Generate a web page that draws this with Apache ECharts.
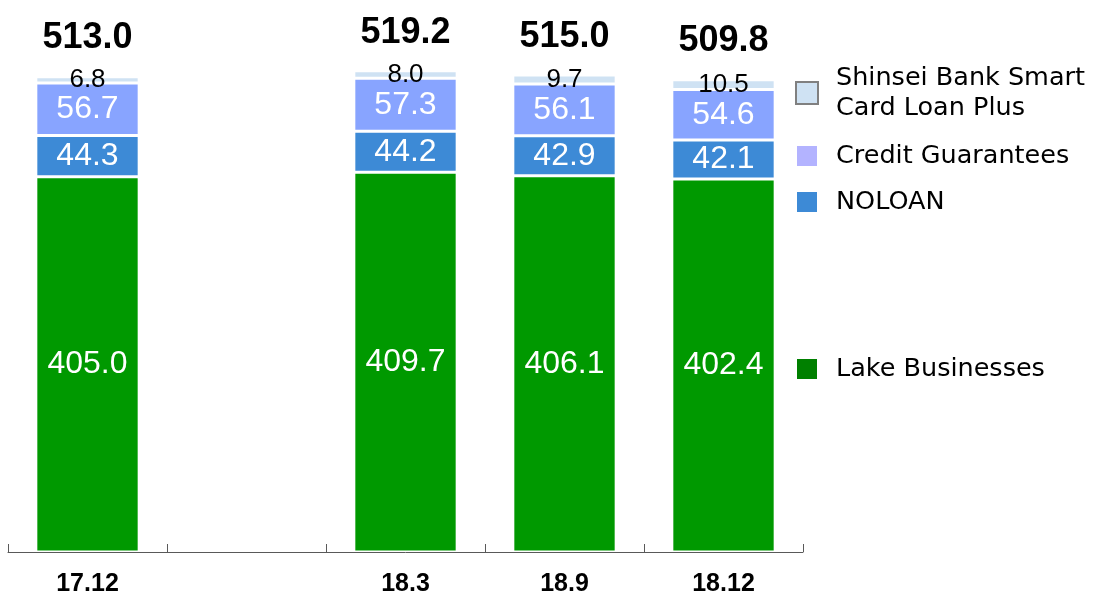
<!DOCTYPE html>
<html>
<head>
<meta charset="utf-8">
<script src="https://cdn.jsdelivr.net/npm/echarts@6/dist/echarts.min.js"></script>
<style>html,body{margin:0;padding:0;background:#fff}#c{width:1095px;height:597px}</style>
</head>
<body>
<div id="c"></div>
<script>
var categories = ['17.12', '', '18.3', '18.9', '18.12'];
var lake = [405.0, null, 409.7, 406.1, 402.4];
var noloan = [44.3, null, 44.2, 42.9, 42.1];
var credit = [56.7, null, 57.3, 56.1, 54.6];
var shinsei = [6.8, null, 8.0, 9.7, 10.5];
var totals = [513.0, null, 519.2, 515.0, 509.8];

var NAME_S = 'Shinsei Bank Smart Card Loan Plus';
var NAME_C = 'Credit Guarantees';
var NAME_N = 'NOLOAN';
var NAME_L = 'Lake Businesses';

var COL_L = '#009900', COL_N = '#3d8ad6', COL_C = '#88a4ff', COL_S = '#cfe2f3';

var chart = echarts.init(document.getElementById('c'));
var fmt1 = function (p) { return p.value == null ? '' : Number(p.value).toFixed(1); };
function segLabel(color, size) {
  return { show: true, position: 'inside', color: color, fontSize: size,
    fontFamily: 'Liberation Sans, Arial, sans-serif', formatter: fmt1 };
}
function legendBase(top) {
  return {
    left: 795, top: top, orient: 'vertical', padding: 0,
    itemWidth: 22, itemHeight: 22, icon: 'rect', selectedMode: false,
    textStyle: { fontSize: 25.5, color: '#000', fontFamily: 'DejaVu Sans, Verdana, sans-serif',
      lineHeight: 30, padding: [0, 0, 0, 13] }
  };
}
var lg1 = legendBase(63);
lg1.data = [{ name: NAME_S, itemStyle: { color: COL_S, borderColor: '#808080', borderWidth: 2 } }];
lg1.formatter = function () { return 'Shinsei Bank Smart\nCard Loan Plus'; };
var lg2 = legendBase(141); lg2.data = [{ name: NAME_C, itemStyle: { color: '#b3b3ff' } }];
var lg3 = legendBase(187); lg3.data = [{ name: NAME_N, itemStyle: { color: COL_N } }];
var lg4 = legendBase(354); lg4.data = [{ name: NAME_L, itemStyle: { color: '#008000' } }];

chart.setOption({
  animation: false,
  backgroundColor: '#fff',
  grid: { left: 8, right: 292, top: 33, bottom: 44 },
  legend: [lg1, lg2, lg3, lg4],
  xAxis: {
    type: 'category', data: categories, boundaryGap: true,
    axisLine: { lineStyle: { color: '#595959', width: 1 } },
    axisTick: { show: true, inside: true, length: 8, lineStyle: { color: '#595959' } },
    axisLabel: { fontSize: 25, fontWeight: 'bold', color: '#000', margin: 20,
      fontFamily: 'Liberation Sans, Arial, sans-serif' }
  },
  yAxis: { type: 'value', min: 0, max: 560, show: false, splitLine: { show: false } },
  series: [
    { name: NAME_L, type: 'bar', stack: 't', data: lake, barWidth: '65%',
      itemStyle: { color: COL_L, borderColor: '#fff', borderWidth: 1.5 },
      label: segLabel('#fff', 32) },
    { name: NAME_N, type: 'bar', stack: 't', data: noloan,
      itemStyle: { color: COL_N, borderColor: '#fff', borderWidth: 1.5 },
      label: segLabel('#fff', 32) },
    { name: NAME_C, type: 'bar', stack: 't', data: credit,
      itemStyle: { color: COL_C, borderColor: '#fff', borderWidth: 1.5 },
      label: segLabel('#fff', 32) },
    { name: NAME_S, type: 'bar', stack: 't', data: shinsei,
      itemStyle: { color: COL_S, borderColor: '#fff', borderWidth: 1.5 },
      label: segLabel('#000', 26) },
    { name: 'Total', type: 'scatter', data: totals, symbolSize: 0, silent: true,
      itemStyle: { color: 'rgba(0,0,0,0)', opacity: 1 },
      label: { show: true, position: 'top', distance: 20, fontSize: 36, fontWeight: 'bold',
        color: '#000', opacity: 1, fontFamily: 'Liberation Sans, Arial, sans-serif', formatter: fmt1 } }
  ]
});
</script>
</body>
</html>
